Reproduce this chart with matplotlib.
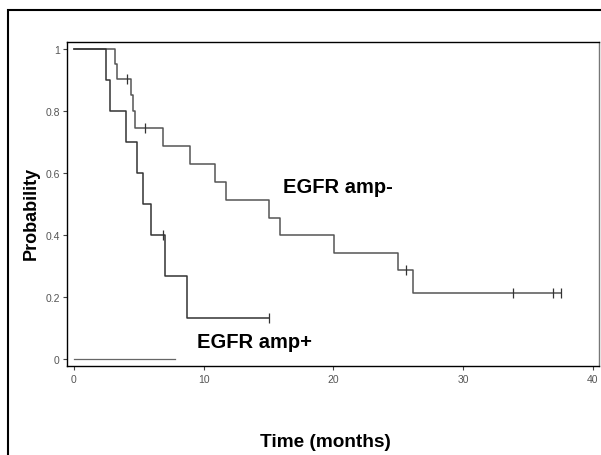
import matplotlib
matplotlib.use("Agg")
import matplotlib.pyplot as plt
from matplotlib.patches import Rectangle

# EGFR amp+ (Kaplan-Meier steps)
pos_times = [0, 2.5, 2.78, 3.98, 4.83, 5.29, 5.96, 7.0, 8.71, 15.0]
pos_surv = [1.0, 0.9, 0.8, 0.7, 0.6, 0.5, 0.4, 0.267, 0.133, 0.133]
pos_cens_t = [6.89, 15.0]
pos_cens_s = [0.4, 0.133]

# EGFR amp-
neg_times = [0, 3.2, 3.3, 4.4, 4.55, 4.7, 6.84, 8.97, 10.9, 11.72, 15.06,
             15.9, 20.07, 24.98, 26.14, 37.55]
neg_surv = [1.0, 0.952, 0.903, 0.85, 0.80, 0.744, 0.686, 0.628, 0.570,
            0.513, 0.455, 0.401, 0.343, 0.286, 0.212, 0.212]
neg_cens_t = [4.1, 5.47, 25.6, 33.87, 36.9, 37.55]
neg_cens_s = [0.903, 0.744, 0.286, 0.212, 0.212, 0.212]

# baseline segment at 0
base_x = [0, 7.8]
base_y = [0, 0]

xticks = [0, 10, 20, 30, 40]
yticks = [0, 0.2, 0.4, 0.6, 0.8, 1]
yticklabels = ["0", "0.2", "0.4", "0.6", "0.8", "1"]

plt.rcParams['font.family'] = ['Liberation Sans', 'DejaVu Sans']

fig = plt.figure(figsize=(6.01, 4.56), dpi=100)
ax = fig.add_axes([0.111, 0.195, 0.886, 0.711])

ax.step(neg_times, neg_surv, where='post', color='#555555', lw=1.1)
ax.step(pos_times, pos_surv, where='post', color='#333333', lw=1.1)
ax.plot(neg_cens_t, neg_cens_s, ls='none', marker='|', ms=7, mew=0.9, color='#333333')
ax.plot(pos_cens_t, pos_cens_s, ls='none', marker='|', ms=7, mew=0.9, color='#333333')
ax.plot(base_x, base_y, color='#666666', lw=0.9)

ax.set_xlim(-0.56, 40.5)
ax.set_ylim(-0.0226, 1.0226)
ax.set_xticks(xticks)
ax.set_xticklabels([str(v) for v in xticks])
ax.set_yticks(yticks)
ax.set_yticklabels(yticklabels)
ax.tick_params(direction='out', length=3, width=0.8, colors='#444444',
               labelsize=7.5, labelcolor='#555555')
ax.tick_params(axis='y', pad=2)
ax.tick_params(axis='x', pad=3)
for s in ['top', 'bottom', 'left']:
    ax.spines[s].set_linewidth(1.0)
    ax.spines[s].set_color('black')
ax.spines['right'].set_linewidth(1.0)
ax.spines['right'].set_color('#777777')

ax.text(16.1, 0.539, "EGFR amp-", fontsize=14.5, fontweight='bold', ha='left', va='baseline')
ax.text(9.46, 0.039, "EGFR amp+", fontsize=14.5, fontweight='bold', ha='left', va='baseline')

fig.text(0.052, 1 - 213 / 456, "Probability", rotation=90, fontsize=13, fontweight='bold',
         ha='center', va='center')
fig.text(325 / 601, 1 - 443 / 456, "Time (months)", fontsize=13.7, fontweight='bold',
         ha='center', va='center')

# outer frame (extends past the image on right/bottom)
fig.patches.append(Rectangle((8.3 / 601, -0.1), 1.2, 1 - 11 / 456 + 0.1,
                             transform=fig.transFigure, fill=False,
                             edgecolor='black', lw=1.5))

fig.savefig("out.png", dpi=100)
